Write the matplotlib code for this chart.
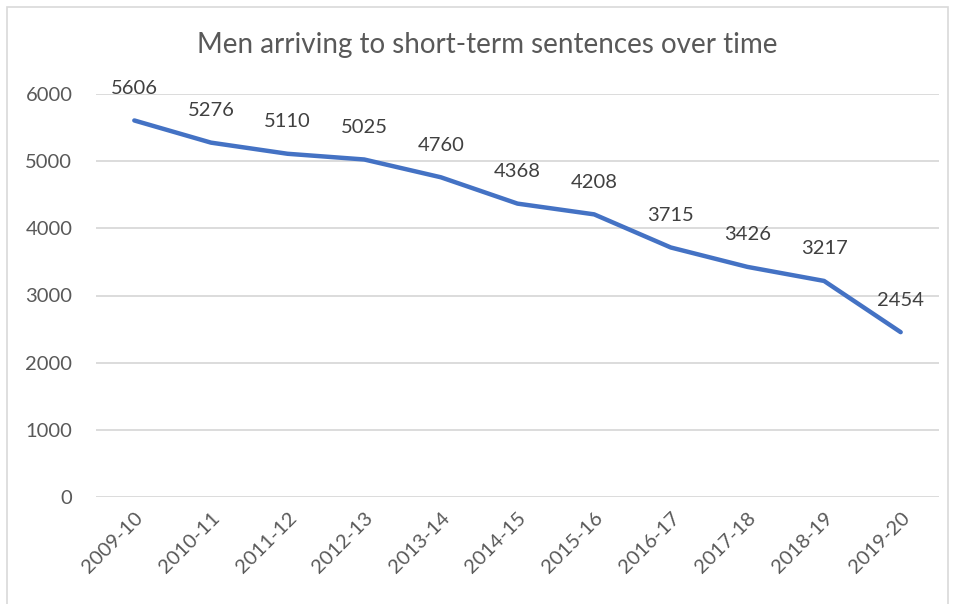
import matplotlib.pyplot as plt
from matplotlib.patches import Rectangle

years = ["2009-10", "2010-11", "2011-12", "2012-13", "2013-14", "2014-15",
         "2015-16", "2016-17", "2017-18", "2018-19", "2019-20"]
men = [5606, 5276, 5110, 5025, 4760, 4368, 4208, 3715, 3426, 3217, 2454]

plt.rcParams["font.family"] = ["Lato", "DejaVu Sans"]
grey = "#595959"

fig = plt.figure(figsize=(9.57, 6.04), dpi=100)
ax = fig.add_axes([96 / 957, 1 - 497 / 604, 843 / 957, 403 / 604])

x = list(range(len(years)))
ax.plot(x, men, color="#4472C4", linewidth=3.2, solid_capstyle="round",
        solid_joinstyle="round", zorder=3)
for xi, v in zip(x, men):
    ax.annotate(str(v), (xi, v), xytext=(0, 23), textcoords="offset points",
                ha="center", va="center", fontsize=14.5, color="#404040")

ax.set_xlim(-0.5, len(years) - 0.5)
ax.set_ylim(0, 6000)
ax.set_yticks(range(0, 6001, 1000))
ax.set_xticks(x)
ax.set_xticklabels(years, rotation=45, ha="right", rotation_mode="anchor")
ax.grid(axis="y", color="#d9d9d9", linewidth=1.3)
ax.set_axisbelow(True)
for s in ax.spines.values():
    s.set_visible(False)
ax.tick_params(length=0, labelsize=14.5, labelcolor=grey)
ax.tick_params(axis="y", pad=17)
ax.tick_params(axis="x", pad=9)

fig.text(487 / 957, 1 - 45 / 604, "Men arriving to short-term sentences over time",
         ha="center", va="center", fontsize=20, color=grey)

fig.patches.append(Rectangle((7 / 957, -0.01), 941 / 957, 1 - 7 / 604 + 0.01,
                             transform=fig.transFigure, fill=False,
                             edgecolor="#d9d9d9", linewidth=1.2))

fig.savefig("out.png", dpi=100)
